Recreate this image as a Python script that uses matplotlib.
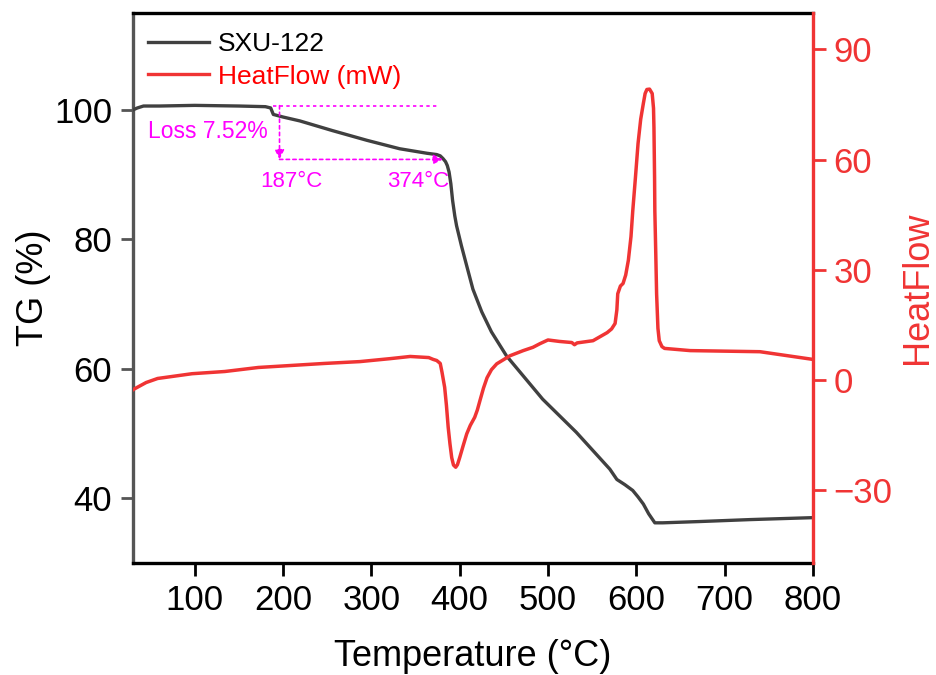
import matplotlib
matplotlib.use("Agg")
import matplotlib.pyplot as plt
from matplotlib.lines import Line2D

plt.rcParams['font.family'] = ['Liberation Sans', 'DejaVu Sans']

# TG curve (left axis)
tg_temp = [30, 35, 42, 60, 100, 150, 180, 186, 189, 200, 219, 256, 295, 332, 363, 374,
           378, 381, 384, 386, 388, 390, 392, 394.5, 396.5, 402, 408, 415, 425, 436,
           453, 494, 532, 570, 578, 587, 596, 602, 608, 614, 621, 630, 672, 729, 800]
tg_val = [100.0, 100.3, 100.6, 100.6, 100.7, 100.6, 100.5, 100.3, 99.3, 98.9, 98.3, 96.8,
          95.3, 94.0, 93.3, 93.1, 92.9, 92.5, 92.0, 91.4, 90.4, 88.6, 86.0, 83.6, 82.1,
          79.0, 75.9, 72.3, 68.8, 65.7, 62.0, 55.3, 50.2, 44.5, 42.9, 42.1, 41.2, 40.2,
          39.1, 37.6, 36.2, 36.2, 36.4, 36.7, 37.0]

# Heat flow curve (right axis)
hf_temp = [30, 32, 45, 58, 97, 134, 172, 247, 287, 321, 344, 365, 370, 374, 378, 380, 383,
           385, 387, 389, 391, 393, 395.5, 397.5, 400, 404, 408, 412, 417, 420, 423, 427,
           431, 436, 442, 457, 472, 483, 491, 500, 513, 527, 530, 533, 551, 567, 572, 576,
           578, 579, 582, 585, 588, 591, 594, 596, 599, 602, 605, 608, 610, 612, 615, 618,
           619.5, 620, 620.7, 621, 622, 623, 624.5, 626, 629, 632, 661, 740, 800]
hf_val = [-2.8, -2.5, -0.8, 0.3, 1.6, 2.2, 3.3, 4.4, 4.9, 5.7, 6.3, 6.0, 5.5, 5.2, 4.4, 2.0,
          -2.1, -7.0, -13.0, -17.5, -21.3, -23.3, -23.9, -23.2, -21.3, -18.0, -14.8, -12.5,
          -10.3, -8.3, -5.7, -2.3, 0.5, 2.7, 4.3, 6.5, 7.9, 8.8, 9.8, 10.8, 10.4, 10.1, 9.5,
          10.0, 10.6, 12.8, 13.8, 15.3, 19.0, 23.4, 25.5, 26.2, 28.5, 32.5, 39.0, 46.0,
          55.0, 64.4, 71.0, 75.3, 78.0, 79.1, 79.2, 78.0, 74.0, 68.7, 55.0, 46.0, 35.0,
          23.4, 14.0, 10.6, 9.0, 8.5, 7.9, 7.6, 5.5]

x_ticks = [100, 200, 300, 400, 500, 600, 700, 800]
tg_ticks = [40, 60, 80, 100]
hf_ticks = [-30, 0, 30, 60, 90]

# annotation values
loss_start, loss_end = 187, 374
tg_top, tg_after = 100.66, 92.35

red = '#F03434'
grey = '#404040'
mag = '#FF00FF'

fig = plt.figure(figsize=(9.36, 6.75), dpi=100)
ax = fig.add_axes([0.142, 0.166, 0.7265, 0.815])
ax2 = ax.twinx()

ax.plot(tg_temp, tg_val, color=grey, lw=2.4, zorder=3)
ax2.plot(hf_temp, hf_val, color=red, lw=2.5)

ax.set_xlim(30, 800)
ax.set_ylim(30, 115)
ax2.set_ylim(-50, 100)
ax.set_xticks(x_ticks)
ax.set_yticks(tg_ticks)
ax2.set_yticks(hf_ticks)

for s in ['top', 'bottom']:
    ax.spines[s].set_linewidth(2.4)
    ax.spines[s].set_color('black')
ax.spines['left'].set_linewidth(2.4)
ax.spines['left'].set_color('#555555')
ax.spines['right'].set_visible(False)
for s in ['left', 'top', 'bottom']:
    ax2.spines[s].set_visible(False)
ax2.spines['right'].set_linewidth(2.4)
ax2.spines['right'].set_color(red)

ax.tick_params(axis='x', direction='out', length=9, width=2, labelsize=25, pad=6, colors='black')
ax.tick_params(axis='y', direction='out', length=9, width=2, labelsize=25, pad=6,
               color='#555555', labelcolor='black')
ax2.tick_params(axis='y', direction='out', length=9, width=2, labelsize=25, pad=6,
                colors=red)

ax.set_xlabel('Temperature (°C)', fontsize=26, labelpad=16)
ax.set_ylabel('TG (%)', fontsize=26, labelpad=2)
ax2.set_ylabel('HeatFlow', fontsize=26, color=red, labelpad=5)

# annotations
ax.plot([loss_start + 2, loss_end], [tg_top, tg_top], color=mag, lw=1.2,
        linestyle=(0, (2, 2)), zorder=2)
ax.annotate('', xy=(loss_start + 9, tg_after), xytext=(loss_start + 9, tg_top),
            arrowprops=dict(arrowstyle='-|>', color=mag, lw=1.2, linestyle=(0, (2, 2)),
                            mutation_scale=14, shrinkA=0, shrinkB=0))
ax.annotate('', xy=(loss_end + 7, tg_after), xytext=(loss_start + 9, tg_after),
            arrowprops=dict(arrowstyle='-|>', color=mag, lw=1.2, linestyle=(0, (2, 2)),
                            mutation_scale=14, shrinkA=0, shrinkB=0))
ax.text(47, 96.6, 'Loss 7.52%', color=mag, fontsize=16.5, ha='left', va='center')
ax.text(209, 88.9, f'{loss_start}°C', color=mag, fontsize=16, ha='center', va='center')
ax.text(353, 88.9, f'{loss_end}°C', color=mag, fontsize=16, ha='center', va='center')

handles = [Line2D([], [], color=grey, lw=2.4), Line2D([], [], color=red, lw=2.4)]
ax.legend(handles, ['SXU-122', 'HeatFlow (mW)'], loc='upper left',
          bbox_to_anchor=(0.022, 0.965), frameon=False, fontsize=19,
          handlelength=2.3, handletextpad=0.35, labelspacing=0.32, borderpad=0,
          borderaxespad=0, labelcolor=['black', '#FF0000'])

fig.savefig('out.png', dpi=100)
